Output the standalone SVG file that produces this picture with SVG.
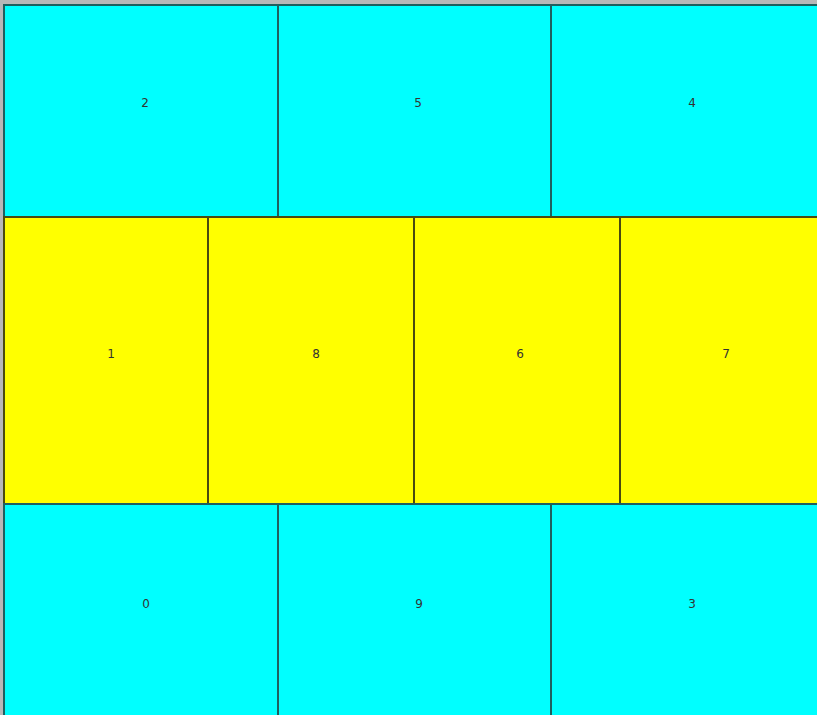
<svg xmlns="http://www.w3.org/2000/svg" width="817" height="715" viewBox="0 0 817 715">
<style>
.c{fill:#00ffff;stroke:#1f5f5f;stroke-width:2}
.y{fill:#ffff00;stroke:#4a4a10;stroke-width:2}
text{font-family:"DejaVu Sans",sans-serif;font-size:12px;fill:#333;text-anchor:middle;dominant-baseline:central}
</style>
<rect x="0" y="0" width="817" height="715" fill="#b8b8b8"/>
<g id="n2"><rect class="c" x="4" y="5" width="274" height="212"/><text x="145" y="103">2</text></g>
<g id="n5"><rect class="c" x="278" y="5" width="273" height="212"/><text x="418" y="103">5</text></g>
<g id="n4"><rect class="c" x="551" y="5" width="268" height="212"/><text x="692" y="103">4</text></g>
<g id="n1"><rect class="y" x="4" y="217" width="204" height="287"/><text x="111" y="354">1</text></g>
<g id="n8"><rect class="y" x="208" y="217" width="206" height="287"/><text x="316" y="354">8</text></g>
<g id="n6"><rect class="y" x="414" y="217" width="206" height="287"/><text x="520" y="354">6</text></g>
<g id="n7"><rect class="y" x="620" y="217" width="199" height="287"/><text x="726" y="354">7</text></g>
<g id="n0"><rect class="c" x="4" y="504" width="274" height="213"/><text x="146" y="604">0</text></g>
<g id="n9"><rect class="c" x="278" y="504" width="273" height="213"/><text x="419" y="604">9</text></g>
<g id="n3"><rect class="c" x="551" y="504" width="268" height="213"/><text x="692" y="604">3</text></g>
<g id="connectors"></g>
</svg>
